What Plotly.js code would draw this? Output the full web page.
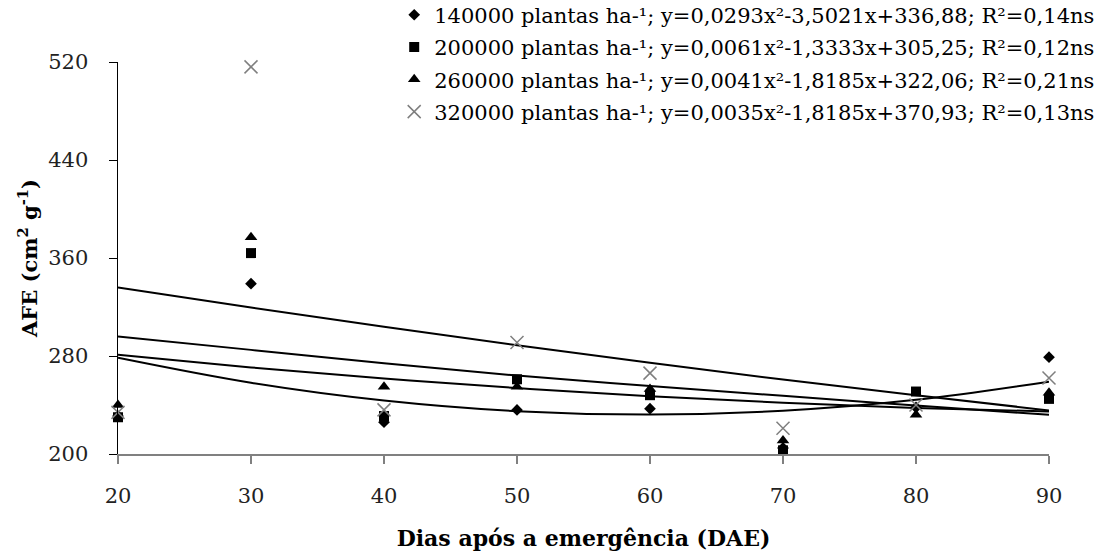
<!DOCTYPE html>
<html>
<head>
<meta charset="utf-8">
<script src="https://cdn.plot.ly/plotly-3.0.1.min.js"></script>
<style>html,body{margin:0;padding:0;background:#fff;}#chart{width:1099px;height:553px;}</style>
</head>
<body>
<div id="chart"></div>
<script>
// Days after emergence
const days = [20, 30, 40, 50, 60, 70, 80, 90];

const afe140 = [231, 339, 226, 236, 237, 205, 238, 279];
const afe200 = [230, 364, 231, 261, 248, 203, 251, 245];
const afe260 = [240, 377, 255, 255, 253, 211, 232, 250];
const afe320 = [234, 516, 236, 291, 266, 221, 240, 262];

// Fitted trend curves at each day
const fit140 = [278.6, 258.2, 243.7, 235.0, 232.2, 235.3, 244.2, 259.0];
const fit200 = [281.0, 270.7, 261.7, 253.8, 247.2, 241.8, 237.6, 234.7];
const fit260 = [296.0, 285.0, 274.0, 264.0, 255.5, 247.5, 239.5, 232.0];
const fit320 = [336.0, 319.5, 303.8, 288.8, 274.4, 260.8, 247.9, 235.6];

// Legend labels
const names = [
  "140000 plantas ha-¹; y=0,0293x²-3,5021x+336,88; R²=0,14ns",
  "200000 plantas ha-¹; y=0,0061x²-1,3333x+305,25; R²=0,12ns",
  "260000 plantas ha-¹; y=0,0041x²-1,8185x+322,06; R²=0,21ns",
  "320000 plantas ha-¹; y=0,0035x²-1,8185x+370,93; R²=0,13ns"
];
const xTicks = [20, 30, 40, 50, 60, 70, 80, 90];
const yTicks = [200, 280, 360, 440, 520];

const fits = [fit140, fit200, fit260, fit320];
const obs = [afe140, afe200, afe260, afe320];
const markers = [
  {symbol: 'diamond', size: 9, color: '#000'},
  {symbol: 'square', size: 10, color: '#000'},
  {symbol: 'triangle-up', size: 11, color: '#000'},
  {symbol: 'x-thin-open', size: 13, color: '#7f7f7f', line: {color: '#7f7f7f', width: 1.5}}
];

const traces = [];
fits.forEach(f => traces.push({
  x: days, y: f, mode: 'lines', type: 'scatter',
  line: {color: '#000', width: 2, shape: 'spline', smoothing: 1},
  showlegend: false, hoverinfo: 'skip'
}));
obs.forEach((o, i) => traces.push({
  x: days, y: o, mode: 'markers', type: 'scatter',
  name: names[i], legendgroup: 'g' + i, marker: markers[i], cliponaxis: false
}));

const font = "DejaVu Serif";
const layout = {
  width: 1099, height: 553,
  margin: {l: 118, r: 50, t: 62, b: 99, autoexpand: false},
  paper_bgcolor: '#fff', plot_bgcolor: '#fff',
  font: {family: font, color: '#222', size: 20},
  showlegend: true,
  legend: {
    x: 1.055, xanchor: 'right', y: 1.172, yanchor: 'top',
    font: {family: font, size: 21, color: '#000'},
    bgcolor: 'rgba(0,0,0,0)', itemwidth: 30, tracegroupgap: 2
  },
  xaxis: {
    range: [20, 90], tickvals: xTicks, ticktext: xTicks.map(String),
    showgrid: false, zeroline: false,
    showline: true, linecolor: '#808080', linewidth: 1.5,
    ticks: 'outside', ticklen: 8, tickcolor: '#808080', tickwidth: 1.5,
    ticklabelstandoff: 14,
    tickfont: {family: font, size: 21, color: '#222'},
    title: {text: '<b>Dias após a emergência (DAE)</b>', font: {family: font, size: 22, color: '#000'}, standoff: 24}
  },
  yaxis: {
    range: [200, 520], tickvals: yTicks, ticktext: yTicks.map(String),
    showgrid: false, zeroline: false,
    showline: true, linecolor: '#000', linewidth: 1.5,
    ticks: 'outside', ticklen: 8, tickcolor: '#000', tickwidth: 1,
    ticklabelstandoff: 16,
    tickfont: {family: font, size: 21, color: '#222'},
    title: {text: '<b>AFE (cm<sup>2</sup> g<sup>-1</sup>)</b>', font: {family: font, size: 21, color: '#000'}, standoff: 5}
  }
};

Plotly.newPlot('chart', traces, layout, {displayModeBar: false, staticPlot: true});
</script>
</body>
</html>
